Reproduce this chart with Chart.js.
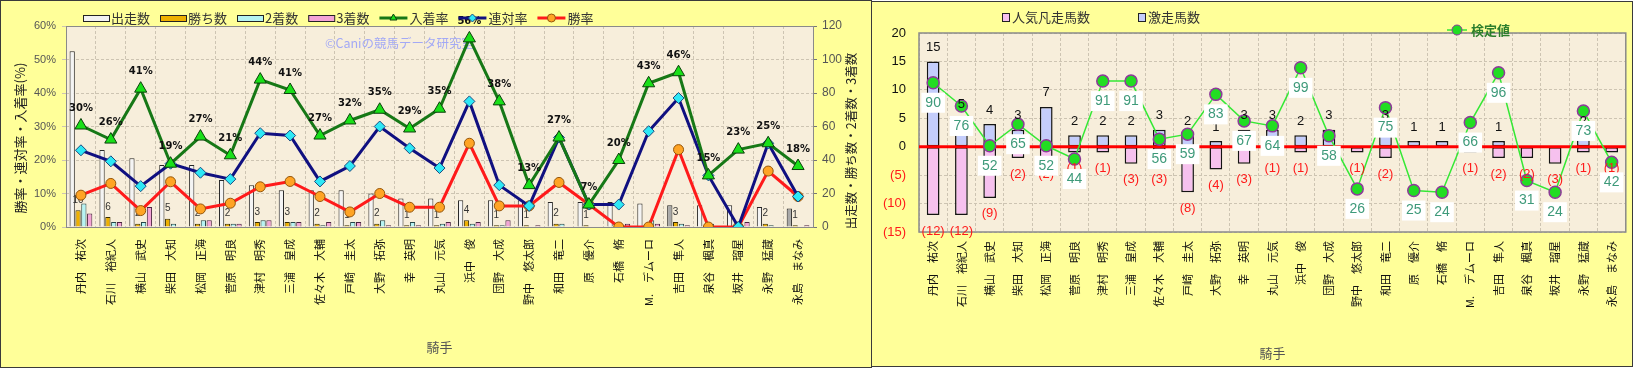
<!DOCTYPE html>
<html>
<head>
<meta charset="utf-8">
<script src="https://cdn.jsdelivr.net/npm/chart.js@4.4.1/dist/chart.umd.min.js"></script>
<style>
  body { margin: 0; width: 1634px; height: 369px; overflow: hidden; background: #ffffff; }
  .panel { position: absolute; background: #ffff99; border: 1px solid #3a3a3a; box-sizing: border-box; }
  #leftPanel { left: 0; top: 0; width: 872px; height: 368px; }
  #rightPanel { left: 871px; top: 1px; width: 762px; height: 366px; }
  canvas { position: absolute; top: 0; }
</style>
</head>
<body>
<div class="panel" id="leftPanel"></div>
<div class="panel" id="rightPanel"></div>
<canvas id="leftChart" width="871" height="369" style="left:0"></canvas>
<canvas id="rightChart" width="763" height="369" style="left:871px"></canvas>
<script>
// jockeys (same order in both charts)
const jockeys = ["丹内　祐次", "石川　裕紀人", "横山　武史", "柴田　大知", "松岡　正海", "菅原　明良",
  "津村　明秀", "三浦　皇成", "佐々木　大輔", "戸崎　圭太", "大野　拓弥", "幸　英明", "丸山　元気",
  "浜中　俊", "団野　大成", "野中　悠太郎", "和田　竜二", "原　優介", "石橋　脩", "M.　デムーロ",
  "吉田　隼人", "泉谷　楓真", "坂井　瑠星", "永野　猛蔵", "永島　まなみ"];

// left chart: counts (right axis)
const runs    = [105, 46, 41, 37, 37, 28, 25, 22, 22, 22, 20, 17, 17, 16, 16, 16, 15, 15, 15, 14, 13, 13, 13, 12, 11];
const wins    = [10, 6, 2, 5, 2, 2, 3, 3, 2, 1, 2, 1, 1, 4, 1, 1, 2, 1, 0, 0, 3, 0, 0, 2, 1];
const seconds = [14, 3, 3, 2, 4, 2, 4, 3, 1, 3, 4, 3, 2, 2, 1, 0, 2, 0, 1, 4, 2, 2, 0, 1, 0];
const thirds  = [8, 3, 12, 0, 4, 2, 4, 3, 3, 3, 1, 1, 3, 3, 4, 1, 0, 0, 2, 2, 1, 0, 3, 0, 1];

// left chart: rates in % (left axis)
const placeRate = [30.3, 26.1, 41.3, 18.9, 27.0, 21.4, 44.0, 40.9, 27.3, 31.8, 35.0, 29.4, 35.3, 56.3, 37.5, 12.5, 26.7, 6.7, 20.0, 42.9, 46.2, 15.4, 23.1, 25.0, 18.2];
const top2Rate  = [22.9, 19.6, 12.2, 18.9, 16.2, 14.3, 28.0, 27.3, 13.6, 18.2, 30.0, 23.5, 17.6, 37.5, 12.5, 6.3, 26.7, 6.7, 6.7, 28.6, 38.5, 15.4, 0, 25.0, 9.1];
const winRate   = [9.5, 13.0, 4.9, 13.5, 5.4, 7.1, 12.0, 13.6, 9.1, 4.5, 10.0, 5.9, 5.9, 25.0, 6.3, 6.3, 13.3, 6.7, 0, 0, 23.1, 0, 0, 16.7, 9.1];

// right chart
const longshots  = [15, 5, 4, 3, 7, 2, 2, 2, 3, 2, 1, 3, 3, 2, 3, 0, 3, 1, 1, 0, 1, 0, 0, 2, 0];
const favFlops   = [-12, -12, -9, -2, -2, -1, -1, -3, -3, -8, -4, -3, -1, -1, 0, -1, -2, 0, 0, -1, -2, -2, -3, -1, -1];
const testValues = [90, 76, 52, 65, 52, 44, 91, 91, 56, 59, 83, 67, 64, 99, 58, 26, 75, 25, 24, 66, 96, 31, 24, 73, 42];

const leftTicks = [0, 10, 20, 30, 40, 50, 60];
const countTicks = [0, 20, 40, 60, 80, 100, 120];
const rightTicks = [-15, -10, -5, 0, 5, 10, 15, 20];

const grayRuns = [20, 24]; // 出走数 bars drawn darker

Chart.defaults.font.family = "'Liberation Sans', Arial, 'Noto Sans CJK JP', sans-serif";
const jp = "'Noto Sans CJK JP', sans-serif";
const plotBg = "#f7eedb";
const gridColor = "#cdc4b2";

function drawMarker(ctx, style, r, fill, stroke, x, y) {
  ctx.save();
  ctx.fillStyle = fill;
  ctx.strokeStyle = stroke;
  ctx.lineWidth = 1;
  Chart.helpers.drawPoint(ctx, { pointStyle: style, radius: r, borderWidth: 1, rotation: 0 }, x, y);
  ctx.restore();
}

function vText(ctx, text, x, y, font, color) {
  ctx.save();
  ctx.translate(x, y);
  ctx.rotate(-Math.PI / 2);
  ctx.font = font;
  ctx.fillStyle = color;
  ctx.textAlign = "center";
  ctx.textBaseline = "middle";
  ctx.fillText(text, 0, 0);
  ctx.restore();
}

// ---------- left chart ----------
const leftDecor = {
  id: "leftDecor",
  beforeDraw(chart) {
    const { ctx, chartArea: a } = chart;
    ctx.save();
    ctx.fillStyle = plotBg;
    ctx.fillRect(a.left, a.top, a.right - a.left, a.bottom - a.top);
    ctx.restore();
  },
  beforeDatasetsDraw(chart) {
    const { ctx, chartArea: a } = chart;
    ctx.save();
    ctx.strokeStyle = "#8a8a8a";
    ctx.lineWidth = 1;
    ctx.strokeRect(a.left + 0.5, a.top + 0.5, a.right - a.left, a.bottom - a.top);
    // watermark
    ctx.font = "12.5px " + jp;
    ctx.fillStyle = "#a3a9f5";
    ctx.textBaseline = "middle";
    ctx.fillText("©Caniの競馬データ研究室", 325, 43);
    ctx.restore();
  },
  afterDatasetDraw(chart, args) {
    // wins count labels, under the rate lines
    if (args.index !== 3) return;
    const ctx = chart.ctx;
    ctx.save();
    ctx.font = "10px 'Liberation Sans', Arial";
    ctx.fillStyle = "#333";
    ctx.textAlign = "center";
    ctx.textBaseline = "middle";
    chart.getDatasetMeta(4).data.forEach((bar, i) => {
      if (wins[i] > 0) ctx.fillText(String(wins[i]), bar.x, bar.y - 10);
    });
    ctx.restore();
  },
  afterDatasetsDraw(chart) {
    const ctx = chart.ctx;
    ctx.save();
    ctx.font = "bold 10px 'DejaVu Sans', Arial";
    ctx.fillStyle = "#111";
    ctx.textAlign = "center";
    ctx.textBaseline = "middle";
    chart.getDatasetMeta(0).data.forEach((pt, i) => {
      ctx.fillText(Math.round(placeRate[i]) + "%", pt.x, pt.y - 17);
    });
    ctx.restore();
  },
  afterDraw(chart) {
    const ctx = chart.ctx;
    const ds = chart.data.datasets;
    ctx.save();
    ctx.font = "13px " + jp;
    ctx.textBaseline = "middle";
    let x = 83;
    const y = 18;
    [3, 4, 5, 6, 0, 1, 2].forEach((k) => {
      const d = ds[k];
      if (k >= 3) {
        ctx.fillStyle = k === 3 ? "#f2f2f2" : d.backgroundColor;
        ctx.strokeStyle = "#222";
        ctx.lineWidth = 1;
        ctx.fillRect(x, y - 3, 26, 6);
        ctx.strokeRect(x + 0.5, y - 2.5, 26, 6);
        x += 28;
      } else {
        ctx.strokeStyle = d.borderColor;
        ctx.lineWidth = 3;
        ctx.beginPath();
        ctx.moveTo(x, y);
        ctx.lineTo(x + 28, y);
        ctx.stroke();
        drawMarker(ctx, d.pointStyle, 4, d.pointBackgroundColor, d.pointBorderColor, x + 14, y);
        x += 30;
      }
      ctx.fillStyle = "#333";
      ctx.fillText(d.label, x, y);
      x += ctx.measureText(d.label).width + 10;
    });
    ctx.restore();
    vText(ctx, "勝率・連対率・入着率(%)", 20, 138, "13px " + jp, "#222");
    vText(ctx, "出走数・勝ち数・2着数・3着数", 851, 141, "12.5px " + jp, "#222");
    ctx.save();
    ctx.font = "13px " + jp;
    ctx.fillStyle = "#555";
    ctx.textAlign = "center";
    ctx.textBaseline = "middle";
    ctx.fillText("騎手", (chart.chartArea.left + chart.chartArea.right) / 2, 347);
    ctx.restore();
  }
};

new Chart(document.getElementById("leftChart"), {
  type: "bar",
  data: {
    labels: jockeys,
    datasets: [
      { type: "line", label: "入着率", data: placeRate, yAxisID: "y", order: 0,
        borderColor: "#167816", borderWidth: 3, pointStyle: "triangle", pointRadius: 7,
        pointBackgroundColor: "#19e019", pointBorderColor: "#0c3f0c", pointBorderWidth: 1 },
      { type: "line", label: "連対率", data: top2Rate, yAxisID: "y", order: 0,
        borderColor: "#101080", borderWidth: 3, pointStyle: "rectRot", pointRadius: 5.5,
        pointBackgroundColor: "#2ee8f5", pointBorderColor: "#1a4a80", pointBorderWidth: 1 },
      { type: "line", label: "勝率", data: winRate, yAxisID: "y", order: 0,
        borderColor: "#ff1a1a", borderWidth: 3, pointStyle: "circle", pointRadius: 5,
        pointBackgroundColor: "#ffa424", pointBorderColor: "#94550a", pointBorderWidth: 1 },
      { label: "出走数", data: runs, yAxisID: "yR", order: 1,
        backgroundColor: (c) => grayRuns.includes(c.dataIndex) ? "#a9a9a9" : "#f4f4f4",
        borderColor: "#262626", borderWidth: 1 },
      { label: "勝ち数", data: wins, yAxisID: "yR", order: 1,
        backgroundColor: "#eeb000", borderColor: "#3a2e00", borderWidth: 1 },
      { label: "2着数", data: seconds, yAxisID: "yR", order: 1,
        backgroundColor: "#b5f3f3", borderColor: "#26474a", borderWidth: 1 },
      { label: "3着数", data: thirds, yAxisID: "yR", order: 1,
        backgroundColor: "#f4a3d6", borderColor: "#4a2440", borderWidth: 1 }
    ]
  },
  options: {
    responsive: false,
    animation: false,
    datasets: { bar: { categoryPercentage: 0.78, barPercentage: 0.9 } },
    layout: { padding: { top: 26, left: 0, right: 0, bottom: 0 } },
    plugins: { legend: { display: false }, tooltip: { enabled: false } },
    scales: {
      x: {
        grid: { color: gridColor, drawTicks: false, offset: true },
        border: { display: false, dash: [3, 2] },
        ticks: { autoSkip: false, minRotation: 90, maxRotation: 90, padding: 12,
          color: "#111", font: { family: jp, size: 11 } },
        afterFit: (s) => { s.height = 142; }
      },
      y: {
        position: "left", min: 0, max: 60,
        afterBuildTicks: (s) => { s.ticks = leftTicks.map((v) => ({ value: v })); },
        grid: { color: gridColor, tickLength: 4 },
        border: { display: false, dash: [3, 2] },
        ticks: { padding: 6, color: "#555", font: { size: 11 }, callback: (v) => v + "%" },
        afterFit: (s) => { s.width = 66; }
      },
      yR: {
        position: "right", min: 0, max: 120,
        afterBuildTicks: (s) => { s.ticks = countTicks.map((v) => ({ value: v })); },
        grid: { drawOnChartArea: false, color: "#777", tickLength: 4 },
        border: { display: false },
        ticks: { padding: 5, color: "#555", font: { size: 12 } },
        afterFit: (s) => { s.width = 58; }
      }
    }
  },
  plugins: [leftDecor]
});

// ---------- right chart ----------
const rightDecor = {
  id: "rightDecor",
  beforeDraw(chart) {
    const { ctx, chartArea: a } = chart;
    ctx.save();
    ctx.fillStyle = plotBg;
    ctx.fillRect(a.left, a.top, a.right - a.left, a.bottom - a.top);
    ctx.restore();
  },
  beforeDatasetsDraw(chart) {
    const { ctx, chartArea: a } = chart;
    ctx.save();
    ctx.strokeStyle = "#8a8a8a";
    ctx.lineWidth = 1.5;
    ctx.strokeRect(a.left, a.top, a.right - a.left, a.bottom - a.top);
    ctx.restore();
  },
  beforeDatasetDraw(chart, args) {
    // red zero line over the bars, under the test-value line
    if (args.index !== 0) return;
    const { ctx, chartArea: a } = chart;
    const y0 = chart.scales.y.getPixelForValue(0);
    ctx.save();
    ctx.strokeStyle = "#ff0000";
    ctx.lineWidth = 3;
    ctx.beginPath();
    ctx.moveTo(a.left, y0);
    ctx.lineTo(a.right, y0);
    ctx.stroke();
    ctx.restore();
  },
  afterDatasetsDraw(chart) {
    const ctx = chart.ctx;
    ctx.save();
    ctx.textAlign = "center";
    ctx.textBaseline = "middle";
    ctx.font = "13px 'Liberation Sans', Arial";
    ctx.fillStyle = "#111";
    chart.getDatasetMeta(2).data.forEach((bar, i) => {
      if (longshots[i] > 0) ctx.fillText(String(longshots[i]), bar.x, bar.y - 14);
    });
    ctx.fillStyle = "#ff1a1a";
    chart.getDatasetMeta(1).data.forEach((bar, i) => {
      if (favFlops[i] < 0) ctx.fillText("(" + (-favFlops[i]) + ")", bar.x, bar.y + 16);
    });
    ctx.font = "14px 'Liberation Sans', Arial";
    chart.getDatasetMeta(0).data.forEach((pt, i) => {
      const t = String(testValues[i]);
      const w = ctx.measureText(t).width + 8;
      const cy = pt.y + 20;
      ctx.fillStyle = "#ffffff";
      ctx.fillRect(pt.x - w / 2, cy - 10, w, 20);
      ctx.fillStyle = "#3e9a7a";
      ctx.fillText(t, pt.x, cy);
    });
    ctx.restore();
  },
  afterDraw(chart) {
    const ctx = chart.ctx;
    const ds = chart.data.datasets;
    ctx.save();
    ctx.textBaseline = "middle";
    ctx.font = "13px " + jp;
    [[1, 131], [2, 267]].forEach(([k, x]) => {
      ctx.fillStyle = ds[k].backgroundColor;
      ctx.strokeStyle = "#222";
      ctx.lineWidth = 1;
      ctx.fillRect(x, 13, 7, 8);
      ctx.strokeRect(x + 0.5, 13.5, 7, 8);
      ctx.fillStyle = "#333";
      ctx.fillText(ds[k].label, x + 10, 17);
    });
    const d = ds[0];
    ctx.strokeStyle = d.borderColor;
    ctx.lineWidth = 1.5;
    ctx.beginPath();
    ctx.moveTo(576, 30);
    ctx.lineTo(596, 30);
    ctx.stroke();
    drawMarker(ctx, "circle", 5, d.pointBackgroundColor, d.pointBorderColor, 586, 30);
    ctx.font = "bold 13px " + jp;
    ctx.fillStyle = "#2c7f2c";
    ctx.fillText(d.label, 600, 30);
    ctx.font = "13px " + jp;
    ctx.fillStyle = "#555";
    ctx.textAlign = "center";
    ctx.fillText("騎手", (chart.chartArea.left + chart.chartArea.right) / 2, 353);
    ctx.restore();
  }
};

new Chart(document.getElementById("rightChart"), {
  type: "bar",
  data: {
    labels: jockeys,
    datasets: [
      { type: "line", label: "検定値", data: testValues, yAxisID: "y2", order: 0,
        borderColor: "#35e835", borderWidth: 1.5, pointRadius: 6, pointStyle: "circle",
        pointBackgroundColor: "#22dd22", pointBorderColor: "#8e3a9a", pointBorderWidth: 1.5 },
      { label: "人気凡走馬数", data: favFlops, stack: "s", order: 1,
        backgroundColor: "#f6c1ee", borderColor: "#141414", borderWidth: 1.5, borderSkipped: false },
      { label: "激走馬数", data: longshots, stack: "s", order: 1,
        backgroundColor: "#c4cdfb", borderColor: "#141414", borderWidth: 1.5, borderSkipped: false }
    ]
  },
  options: {
    responsive: false,
    animation: false,
    datasets: { bar: { categoryPercentage: 1, barPercentage: 0.45 } },
    layout: { padding: { top: 33, left: 0, right: 0, bottom: 0 } },
    plugins: { legend: { display: false }, tooltip: { enabled: false } },
    scales: {
      x: {
        stacked: true,
        grid: { color: gridColor, drawTicks: false, offset: true },
        border: { display: false, dash: [3, 2] },
        ticks: { autoSkip: false, minRotation: 90, maxRotation: 90, padding: 9,
          color: "#111", font: { family: jp, size: 11 } },
        afterFit: (s) => { s.height = 137; }
      },
      y: {
        stacked: true, min: -15, max: 20,
        afterBuildTicks: (s) => { s.ticks = rightTicks.map((v) => ({ value: v })); },
        grid: { color: gridColor, drawTicks: false },
        border: { display: false, dash: [3, 2] },
        ticks: { padding: 13, font: { size: 13 },
          color: (c) => c.tick.value < 0 ? "#ff1a1a" : "#111",
          callback: (v) => v < 0 ? "(" + (-v) + ")" : String(v) },
        afterFit: (s) => { s.width = 48; }
      },
      y2: { display: false, min: 0, max: 120 }
    }
  },
  plugins: [rightDecor]
});
</script>
</body>
</html>
